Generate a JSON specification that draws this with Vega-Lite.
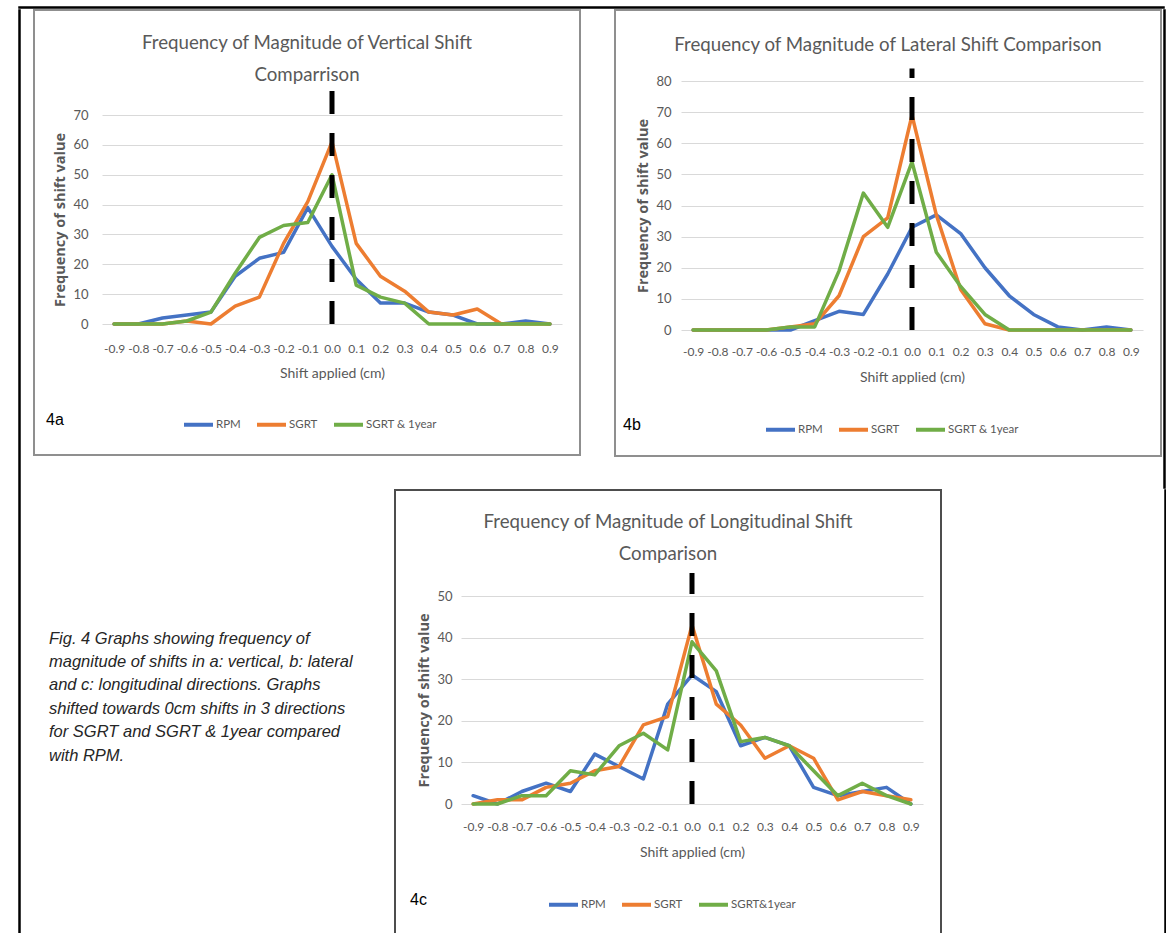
{
  "$schema": "https://vega.github.io/schema/vega-lite/v6.json",
  "padding": {"left": 18, "top": 6, "right": 0, "bottom": 0},
  "background": "white",
  "spacing": 0,
  "datasets": {
    "vertical": [
      {"shift":"-0.9","series":"RPM","count":0},{"shift":"-0.8","series":"RPM","count":0},{"shift":"-0.7","series":"RPM","count":2},{"shift":"-0.6","series":"RPM","count":3},{"shift":"-0.5","series":"RPM","count":4},{"shift":"-0.4","series":"RPM","count":16},{"shift":"-0.3","series":"RPM","count":22},{"shift":"-0.2","series":"RPM","count":24},{"shift":"-0.1","series":"RPM","count":39},{"shift":"0.0","series":"RPM","count":26},{"shift":"0.1","series":"RPM","count":15},{"shift":"0.2","series":"RPM","count":7},{"shift":"0.3","series":"RPM","count":7},{"shift":"0.4","series":"RPM","count":4},{"shift":"0.5","series":"RPM","count":3},{"shift":"0.6","series":"RPM","count":0},{"shift":"0.7","series":"RPM","count":0},{"shift":"0.8","series":"RPM","count":1},{"shift":"0.9","series":"RPM","count":0},
      {"shift":"-0.9","series":"SGRT","count":0},{"shift":"-0.8","series":"SGRT","count":0},{"shift":"-0.7","series":"SGRT","count":0},{"shift":"-0.6","series":"SGRT","count":1},{"shift":"-0.5","series":"SGRT","count":0},{"shift":"-0.4","series":"SGRT","count":6},{"shift":"-0.3","series":"SGRT","count":9},{"shift":"-0.2","series":"SGRT","count":27},{"shift":"-0.1","series":"SGRT","count":41},{"shift":"0.0","series":"SGRT","count":61},{"shift":"0.1","series":"SGRT","count":27},{"shift":"0.2","series":"SGRT","count":16},{"shift":"0.3","series":"SGRT","count":11},{"shift":"0.4","series":"SGRT","count":4},{"shift":"0.5","series":"SGRT","count":3},{"shift":"0.6","series":"SGRT","count":5},{"shift":"0.7","series":"SGRT","count":0},{"shift":"0.8","series":"SGRT","count":0},{"shift":"0.9","series":"SGRT","count":0},
      {"shift":"-0.9","series":"SGRT & 1year","count":0},{"shift":"-0.8","series":"SGRT & 1year","count":0},{"shift":"-0.7","series":"SGRT & 1year","count":0},{"shift":"-0.6","series":"SGRT & 1year","count":1},{"shift":"-0.5","series":"SGRT & 1year","count":4},{"shift":"-0.4","series":"SGRT & 1year","count":17},{"shift":"-0.3","series":"SGRT & 1year","count":29},{"shift":"-0.2","series":"SGRT & 1year","count":33},{"shift":"-0.1","series":"SGRT & 1year","count":34},{"shift":"0.0","series":"SGRT & 1year","count":50},{"shift":"0.1","series":"SGRT & 1year","count":13},{"shift":"0.2","series":"SGRT & 1year","count":9},{"shift":"0.3","series":"SGRT & 1year","count":7},{"shift":"0.4","series":"SGRT & 1year","count":0},{"shift":"0.5","series":"SGRT & 1year","count":0},{"shift":"0.6","series":"SGRT & 1year","count":0},{"shift":"0.7","series":"SGRT & 1year","count":0},{"shift":"0.8","series":"SGRT & 1year","count":0},{"shift":"0.9","series":"SGRT & 1year","count":0}
    ],
    "lateral": [
      {"shift":"-0.9","series":"RPM","count":0},{"shift":"-0.8","series":"RPM","count":0},{"shift":"-0.7","series":"RPM","count":0},{"shift":"-0.6","series":"RPM","count":0},{"shift":"-0.5","series":"RPM","count":0},{"shift":"-0.4","series":"RPM","count":3},{"shift":"-0.3","series":"RPM","count":6},{"shift":"-0.2","series":"RPM","count":5},{"shift":"-0.1","series":"RPM","count":18},{"shift":"0.0","series":"RPM","count":33},{"shift":"0.1","series":"RPM","count":37},{"shift":"0.2","series":"RPM","count":31},{"shift":"0.3","series":"RPM","count":20},{"shift":"0.4","series":"RPM","count":11},{"shift":"0.5","series":"RPM","count":5},{"shift":"0.6","series":"RPM","count":1},{"shift":"0.7","series":"RPM","count":0},{"shift":"0.8","series":"RPM","count":1},{"shift":"0.9","series":"RPM","count":0},
      {"shift":"-0.9","series":"SGRT","count":0},{"shift":"-0.8","series":"SGRT","count":0},{"shift":"-0.7","series":"SGRT","count":0},{"shift":"-0.6","series":"SGRT","count":0},{"shift":"-0.5","series":"SGRT","count":1},{"shift":"-0.4","series":"SGRT","count":2},{"shift":"-0.3","series":"SGRT","count":11},{"shift":"-0.2","series":"SGRT","count":30},{"shift":"-0.1","series":"SGRT","count":36},{"shift":"0.0","series":"SGRT","count":69},{"shift":"0.1","series":"SGRT","count":37},{"shift":"0.2","series":"SGRT","count":13},{"shift":"0.3","series":"SGRT","count":2},{"shift":"0.4","series":"SGRT","count":0},{"shift":"0.5","series":"SGRT","count":0},{"shift":"0.6","series":"SGRT","count":0},{"shift":"0.7","series":"SGRT","count":0},{"shift":"0.8","series":"SGRT","count":0},{"shift":"0.9","series":"SGRT","count":0},
      {"shift":"-0.9","series":"SGRT & 1year","count":0},{"shift":"-0.8","series":"SGRT & 1year","count":0},{"shift":"-0.7","series":"SGRT & 1year","count":0},{"shift":"-0.6","series":"SGRT & 1year","count":0},{"shift":"-0.5","series":"SGRT & 1year","count":1},{"shift":"-0.4","series":"SGRT & 1year","count":1},{"shift":"-0.3","series":"SGRT & 1year","count":19},{"shift":"-0.2","series":"SGRT & 1year","count":44},{"shift":"-0.1","series":"SGRT & 1year","count":33},{"shift":"0.0","series":"SGRT & 1year","count":54},{"shift":"0.1","series":"SGRT & 1year","count":25},{"shift":"0.2","series":"SGRT & 1year","count":14},{"shift":"0.3","series":"SGRT & 1year","count":5},{"shift":"0.4","series":"SGRT & 1year","count":0},{"shift":"0.5","series":"SGRT & 1year","count":0},{"shift":"0.6","series":"SGRT & 1year","count":0},{"shift":"0.7","series":"SGRT & 1year","count":0},{"shift":"0.8","series":"SGRT & 1year","count":0},{"shift":"0.9","series":"SGRT & 1year","count":0}
    ],
    "longitudinal": [
      {"shift":"-0.9","series":"RPM","count":2},{"shift":"-0.8","series":"RPM","count":0},{"shift":"-0.7","series":"RPM","count":3},{"shift":"-0.6","series":"RPM","count":5},{"shift":"-0.5","series":"RPM","count":3},{"shift":"-0.4","series":"RPM","count":12},{"shift":"-0.3","series":"RPM","count":9},{"shift":"-0.2","series":"RPM","count":6},{"shift":"-0.1","series":"RPM","count":24},{"shift":"0.0","series":"RPM","count":31},{"shift":"0.1","series":"RPM","count":27},{"shift":"0.2","series":"RPM","count":14},{"shift":"0.3","series":"RPM","count":16},{"shift":"0.4","series":"RPM","count":14},{"shift":"0.5","series":"RPM","count":4},{"shift":"0.6","series":"RPM","count":2},{"shift":"0.7","series":"RPM","count":3},{"shift":"0.8","series":"RPM","count":4},{"shift":"0.9","series":"RPM","count":0},
      {"shift":"-0.9","series":"SGRT","count":0},{"shift":"-0.8","series":"SGRT","count":1},{"shift":"-0.7","series":"SGRT","count":1},{"shift":"-0.6","series":"SGRT","count":4},{"shift":"-0.5","series":"SGRT","count":5},{"shift":"-0.4","series":"SGRT","count":8},{"shift":"-0.3","series":"SGRT","count":9},{"shift":"-0.2","series":"SGRT","count":19},{"shift":"-0.1","series":"SGRT","count":21},{"shift":"0.0","series":"SGRT","count":43},{"shift":"0.1","series":"SGRT","count":24},{"shift":"0.2","series":"SGRT","count":19},{"shift":"0.3","series":"SGRT","count":11},{"shift":"0.4","series":"SGRT","count":14},{"shift":"0.5","series":"SGRT","count":11},{"shift":"0.6","series":"SGRT","count":1},{"shift":"0.7","series":"SGRT","count":3},{"shift":"0.8","series":"SGRT","count":2},{"shift":"0.9","series":"SGRT","count":1},
      {"shift":"-0.9","series":"SGRT&1year","count":0},{"shift":"-0.8","series":"SGRT&1year","count":0},{"shift":"-0.7","series":"SGRT&1year","count":2},{"shift":"-0.6","series":"SGRT&1year","count":2},{"shift":"-0.5","series":"SGRT&1year","count":8},{"shift":"-0.4","series":"SGRT&1year","count":7},{"shift":"-0.3","series":"SGRT&1year","count":14},{"shift":"-0.2","series":"SGRT&1year","count":17},{"shift":"-0.1","series":"SGRT&1year","count":13},{"shift":"0.0","series":"SGRT&1year","count":39},{"shift":"0.1","series":"SGRT&1year","count":32},{"shift":"0.2","series":"SGRT&1year","count":15},{"shift":"0.3","series":"SGRT&1year","count":16},{"shift":"0.4","series":"SGRT&1year","count":14},{"shift":"0.5","series":"SGRT&1year","count":8},{"shift":"0.6","series":"SGRT&1year","count":2},{"shift":"0.7","series":"SGRT&1year","count":5},{"shift":"0.8","series":"SGRT&1year","count":2},{"shift":"0.9","series":"SGRT&1year","count":0}
    ],
    "zero": [{"shift": "0.0"}],
    "blank": [{"t": ""}],
    "none": []
  },
  "resolve": {"scale": {"color": "independent", "x": "independent", "y": "independent"}, "legend": {"color": "independent"}},
  "vconcat": [
    {
      "width": 1145, "height": 1,
      "view": {"stroke": "#000000", "strokeWidth": 1.5},
      "data": {"name": "none"},
      "mark": {"type": "point"}
    },
    {
      "hconcat": [
        {
          "width": 1, "height": 930,
          "view": {"stroke": "#000000", "strokeWidth": 1.5},
          "data": {"name": "none"},
          "mark": {"type": "point"}
        },
        {
          "vconcat": [
            {
              "hconcat": [
                {
                  "width": 546, "height": 445,
                  "view": {"stroke": "#8f8f8f", "strokeWidth": 2},
                  "title": {"text": ["Frequency of Magnitude of Vertical Shift", "Comparrison"], "offset": -75, "baseline": "top"},
                  "layer": [
                    {
                      "data": {"name": "vertical"},
                      "mark": {"type": "line", "strokeWidth": 3.5, "strokeJoin": "round", "strokeCap": "round"},
                      "encoding": {
                        "x": {"field": "shift", "type": "ordinal",
                          "scale": {"type": "point", "domain": ["-0.9","-0.8","-0.7","-0.6","-0.5","-0.4","-0.3","-0.2","-0.1","0.0","0.1","0.2","0.3","0.4","0.5","0.6","0.7","0.8","0.9"], "range": [68, 528], "padding": 0.5},
                          "axis": {"orient": "bottom", "offset": -131, "labelPadding": 19, "title": "Shift applied (cm)", "titlePadding": 12}},
                        "y": {"field": "count", "type": "quantitative",
                          "scale": {"domain": [0, 70], "range": [314, 105], "nice": false},
                          "axis": {"orient": "left", "offset": -58, "labelPadding": 4, "values": [0,10,20,30,40,50,60,70], "title": "Frequency of shift value", "titlePadding": 5}},
                        "color": {"field": "series", "type": "nominal",
                          "scale": {"domain": ["RPM", "SGRT", "SGRT & 1year"], "range": ["#4472c4", "#ed7d31", "#70ad47"]},
                          "legend": {"legendX": 12, "legendY": 398, "title": "4a", "titlePadding": 118}}
                      }
                    },
                    {
                      "data": {"name": "zero"},
                      "mark": {"type": "rule", "color": "#000000", "strokeWidth": 5, "strokeDash": [23, 19]},
                      "encoding": {"x": {"field": "shift", "type": "ordinal"}, "y": {"datum": 0, "type": "quantitative"}, "y2": {"datum": 78}}
                    }
                  ]
                },
                {
                  "hconcat": [
                    {
                      "width": 546, "height": 446,
                      "view": {"stroke": "#8f8f8f", "strokeWidth": 2},
                      "title": {"text": "Frequency of Magnitude of Lateral Shift Comparison", "offset": -45, "baseline": "top"},
                      "layer": [
                        {
                          "data": {"name": "lateral"},
                          "mark": {"type": "line", "strokeWidth": 3.5, "strokeJoin": "round", "strokeCap": "round"},
                          "encoding": {
                            "x": {"field": "shift", "type": "ordinal",
                              "scale": {"type": "point", "domain": ["-0.9","-0.8","-0.7","-0.6","-0.5","-0.4","-0.3","-0.2","-0.1","0.0","0.1","0.2","0.3","0.4","0.5","0.6","0.7","0.8","0.9"], "range": [66, 528], "padding": 0.5},
                              "axis": {"orient": "bottom", "offset": -126, "labelPadding": 16, "title": "Shift applied (cm)", "titlePadding": 13}},
                            "y": {"field": "count", "type": "quantitative",
                              "scale": {"domain": [0, 80], "range": [320, 71], "nice": false},
                              "axis": {"orient": "left", "offset": -60, "labelPadding": 4, "values": [0,10,20,30,40,50,60,70,80], "title": "Frequency of shift value", "titlePadding": 5}},
                            "color": {"field": "series", "type": "nominal",
                              "scale": {"domain": ["RPM", "SGRT", "SGRT & 1year"], "range": ["#4472c4", "#ed7d31", "#70ad47"]},
                              "legend": {"legendX": 8, "legendY": 403, "title": "4b", "titlePadding": 123}}
                          }
                        },
                        {
                          "data": {"name": "zero"},
                          "mark": {"type": "rule", "color": "#000000", "strokeWidth": 5, "strokeDash": [23, 19]},
                          "encoding": {"x": {"field": "shift", "type": "ordinal"}, "y": {"datum": 0, "type": "quantitative"}, "y2": {"datum": 84}}
                        }
                      ]
                    },
                    {
                      "width": 1, "height": 478,
                      "view": {"stroke": "#000000", "strokeWidth": 1.5},
                      "data": {"name": "none"},
                      "mark": {"type": "point"}
                    }
                  ],
                  "spacing": 1,
                  "resolve": {"scale": {"color": "independent", "x": "independent", "y": "independent"}, "legend": {"color": "independent"}}
                }
              ],
              "spacing": 33,
              "resolve": {"scale": {"color": "independent", "x": "independent", "y": "independent"}, "legend": {"color": "independent"}}
            },
            {
              "hconcat": [
                {
                  "width": 340, "height": 445,
                  "view": {"stroke": null},
                  "title": {
                    "text": ["Fig. 4 Graphs showing frequency of", "magnitude of shifts in a: vertical, b: lateral", "and c: longitudinal directions. Graphs", "shifted towards 0cm shifts in 3 directions", "for SGRT and SGRT & 1year compared", "with RPM."],
                    "anchor": "start", "offset": -274, "dx": 15, "baseline": "top",
                    "font": "Liberation Sans", "fontStyle": "italic", "fontSize": 16.5, "lineHeight": 23.4, "color": "#262626"
                  },
                  "data": {"name": "blank"},
                  "mark": {"type": "text"},
                  "encoding": {"text": {"field": "t"}}
                },
                {
                  "hconcat": [
                    {
                      "width": 546, "height": 445,
                      "view": {"stroke": "#4d4d4d", "strokeWidth": 2},
                      "title": {"text": ["Frequency of Magnitude of Longitudinal Shift", "Comparison"], "offset": -74, "baseline": "top"},
                      "layer": [
                        {
                          "data": {"name": "longitudinal"},
                          "mark": {"type": "line", "strokeWidth": 3.5, "strokeJoin": "round", "strokeCap": "round"},
                          "encoding": {
                            "x": {"field": "shift", "type": "ordinal",
                              "scale": {"type": "point", "domain": ["-0.9","-0.8","-0.7","-0.6","-0.5","-0.4","-0.3","-0.2","-0.1","0.0","0.1","0.2","0.3","0.4","0.5","0.6","0.7","0.8","0.9"], "range": [66, 528], "padding": 0.5},
                              "axis": {"orient": "bottom", "offset": -131, "labelPadding": 17, "title": "Shift applied (cm)", "titlePadding": 13}},
                            "y": {"field": "count", "type": "quantitative",
                              "scale": {"domain": [0, 50], "range": [314, 106], "nice": false},
                              "axis": {"orient": "left", "offset": -61, "labelPadding": 4, "values": [0,10,20,30,40,50], "title": "Frequency of shift value", "titlePadding": 5}},
                            "color": {"field": "series", "type": "nominal",
                              "scale": {"domain": ["RPM", "SGRT", "SGRT&1year"], "range": ["#4472c4", "#ed7d31", "#70ad47"]},
                              "legend": {"legendX": 15, "legendY": 398, "title": "4c", "titlePadding": 120}}
                          }
                        },
                        {
                          "data": {"name": "zero"},
                          "mark": {"type": "rule", "color": "#000000", "strokeWidth": 5, "strokeDash": [23, 19]},
                          "encoding": {"x": {"field": "shift", "type": "ordinal"}, "y": {"datum": 0, "type": "quantitative"}, "y2": {"datum": 55.5}}
                        }
                      ]
                    },
                    {
                      "width": 1, "height": 450,
                      "view": {"stroke": "#000000", "strokeWidth": 1.5},
                      "data": {"name": "none"},
                      "mark": {"type": "point"}
                    }
                  ],
                  "spacing": 222,
                  "resolve": {"scale": {"color": "independent", "x": "independent", "y": "independent"}, "legend": {"color": "independent"}}
                }
              ],
              "spacing": 20,
              "resolve": {"scale": {"color": "independent", "x": "independent", "y": "independent"}, "legend": {"color": "independent"}}
            }
          ],
          "spacing": 0,
          "resolve": {"scale": {"color": "independent", "x": "independent", "y": "independent"}, "legend": {"color": "independent"}}
        }
      ],
      "spacing": 12,
      "resolve": {"scale": {"color": "independent", "x": "independent", "y": "independent"}, "legend": {"color": "independent"}}
    }
  ],
  "config": {
    "axis": {"domain": false, "ticks": false, "labelFont": "Lato", "labelFontSize": 12, "labelColor": "#595959", "gridColor": "#d9d9d9", "gridWidth": 1, "titleColor": "#595959", "labelOverlap": false},
    "axisX": {"grid": false, "labelAngle": 0, "labelFontSize": 12, "titleFont": "Lato", "titleFontSize": 14, "titleFontWeight": "normal"},
    "axisY": {"grid": true, "labelFontSize": 13, "titleFont": "Open Sans", "titleFontWeight": "bold", "titleFontSize": 14.5},
    "title": {"font": "Lato", "fontSize": 18.7, "fontWeight": "normal", "color": "#595959", "anchor": "middle", "frame": "group", "lineHeight": 32},
    "legend": {"orient": "none", "direction": "horizontal", "symbolType": "stroke", "symbolStrokeWidth": 4, "symbolSize": 841, "labelFont": "Lato", "labelFontSize": 11.5, "labelColor": "#595959", "columnPadding": 8, "labelOffset": 1, "titleOrient": "left", "titleAnchor": "middle", "titleBaseline": "middle", "titleFont": "Liberation Sans", "titleFontSize": 16, "titleFontWeight": "normal", "titleColor": "#000000"}
  }
}
